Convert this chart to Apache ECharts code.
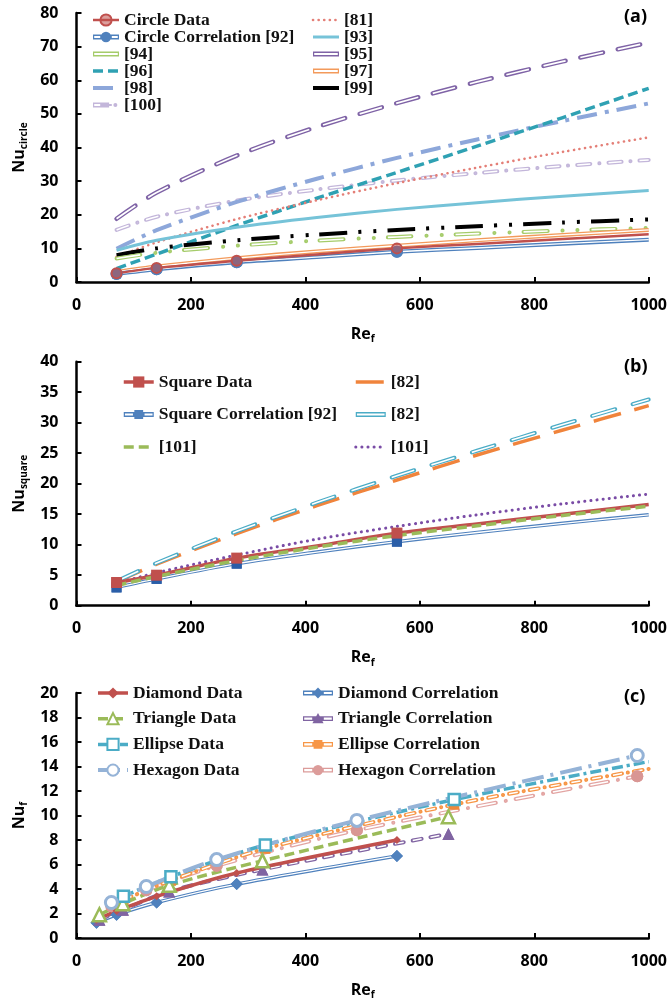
<!DOCTYPE html>
<html>
<head>
<meta charset="utf-8">
<script src="https://cdn.jsdelivr.net/npm/echarts@6/dist/echarts.min.js"></script>
<style>
  html, body { margin: 0; padding: 0; background: #fff; }
  #chart { width: 670px; height: 1001px; }
</style>
</head>
<body>
<div id="chart"></div>
<script>
// ---- Axis ranges: [min, max, interval] ----
const reRange = [0, 1000, 200];
const nuRangeCircle = [0, 80, 10];
const nuRangeSquare = [0, 40, 5];
const nuRangeFin = [0, 20, 2];

// ---- (a) circular fins ----
const reA = [70, 140, 280, 420, 560, 700, 850, 1000];
const reAMeasured = [70, 140, 280, 560];
const nuCircleData = [2.6, 4.2, 6.3, 8.2, 10.0, 11.3, 12.8, 14.2];
const nuCircleCorr = [2.4, 3.8, 5.9, 7.4, 9.0, 10.1, 11.4, 12.6];
const nuRef81 = [7.5, 11.8, 18.7, 24.3, 29.4, 34.0, 38.7, 43.0];
const nuRef93 = [9.4, 12.4, 16.3, 19.2, 21.6, 23.6, 25.5, 27.2];
const nuRef94 = [7.0, 8.7, 10.8, 12.3, 13.4, 14.4, 15.3, 16.1];
const nuRef95 = [18.8, 26.6, 37.6, 46.1, 53.2, 59.5, 65.6, 71.2];
const nuRef96 = [4.0, 8.3, 16.8, 24.9, 32.6, 40.4, 48.9, 57.6];
const nuRef97 = [3.0, 4.6, 7.1, 9.1, 10.8, 12.4, 14.0, 15.5];
const nuRef98 = [9.9, 15.4, 23.8, 30.7, 36.9, 42.4, 47.9, 53.1];
const nuRef99 = [8.0, 10.0, 12.4, 14.1, 15.5, 16.6, 17.7, 18.6];
const nuRef100 = [15.5, 19.4, 24.2, 27.5, 30.2, 32.4, 34.5, 36.3];

// ---- (b) square fins ----
const reB = [70, 140, 280, 420, 560, 700, 850, 1000];
const reBMeasured = [70, 140, 280, 560];
const nuSquareData = [3.8, 5.0, 7.8, 9.8, 11.9, 13.4, 15.0, 16.6];
const nuSquareCorr = [3.0, 4.4, 6.9, 8.8, 10.5, 12.0, 13.5, 14.9];
const nuRef82a = [3.9, 6.8, 11.8, 16.4, 20.6, 24.7, 28.8, 32.8];
const nuRef82b = [4.0, 7.0, 12.2, 16.9, 21.3, 25.4, 29.7, 33.8];
const nuRef101a = [3.3, 4.8, 7.4, 9.6, 11.5, 13.1, 14.8, 16.3];
const nuRef101b = [3.7, 5.4, 8.3, 10.9, 13.0, 14.9, 16.7, 18.3];

// ---- (c) other fin shapes ----
const reDiamond = [35, 70, 140, 280, 560];
const nuDiamondData = [1.5, 2.2, 3.4, 5.3, 8.0];
const nuDiamondCorr = [1.25, 1.9, 2.9, 4.4, 6.7];
const reTriangle = [40, 81, 162, 325, 650];
const nuTriangleData = [1.9, 2.8, 4.3, 6.3, 9.9];
const nuTriangleCorr = [1.5, 2.3, 3.8, 5.6, 8.5];
const reEllipse = [82, 165, 330, 660, 1000];
const reEllipseMeasured = [82, 165, 330, 660];
const nuEllipseData = [3.4, 5.0, 7.6, 11.3, 14.4];
const nuEllipseCorr = [3.1, 4.7, 7.3, 10.9, 13.8];
const reHexagon = [61, 122, 245, 490, 980];
const nuHexagonData = [2.9, 4.2, 6.4, 9.6, 14.9];
const nuHexagonCorr = [2.6, 3.9, 5.9, 8.8, 13.2];

// ---- helpers ----
function points(re, nu, measured) {
  return re.map((r, i) => {
    const item = { value: [r, nu[i]] };
    if (measured && measured.indexOf(r) < 0) item.symbol = 'none';
    return item;
  });
}

function curve(name, g, re, nu, o) {
  return {
    type: 'line', name: name, xAxisIndex: g, yAxisIndex: g,
    data: points(re, nu, o.measured),
    smooth: 0.3,
    symbol: o.symbol || 'none', symbolSize: o.size || 8, showAllSymbol: true,
    lineStyle: { color: o.color, width: o.width, type: o.dash || 'solid', cap: o.cap || 'butt', join: 'round' },
    itemStyle: o.item || { color: o.color },
    animation: false, silent: true, z: o.z || 2
  };
}

// A "double" line: coloured stroke with a thin white core, markers repeated on top
function doubleCurve(name, g, re, nu, o) {
  const outer = curve(name, g, re, nu, Object.assign({}, o, { cap: o.dash ? 'round' : 'butt' }));
  const inner = curve(name, g, re, nu, Object.assign({}, o, { width: o.inner, cap: 'butt' }));
  inner.lineStyle.color = '#fff';
  return [outer, inner];
}

const blue = '#4F81BD', red = '#C0504D', green = '#9BBB59', purple = '#8064A2', aqua = '#4BACC6', orange = '#F79646';

const series = [].concat(
  // (a)
  doubleCurve('[95]', 0, reA, nuRef95, { color: '#7F63A6', width: 4.5, inner: 1.7, dash: [23, 15] }),
  doubleCurve('[100]', 0, reA, nuRef100, { color: '#C3B6DA', width: 4, inner: 1.6, dash: [13, 9, 0.1, 9] }),
  curve('[98]', 0, reA, nuRef98, { color: '#8DA7DA', width: 4, dash: [20, 8, 4, 8] }),
  curve('[96]', 0, reA, nuRef96, { color: '#2FA1B3', width: 3.5, dash: [10, 5] }),
  curve('[81]', 0, reA, nuRef81, { color: '#E47F77', width: 2.6, dash: [0.1, 5.5], cap: 'round' }),
  curve('[93]', 0, reA, nuRef93, { color: '#76C3D8', width: 3 }),
  curve('[99]', 0, reA, nuRef99, { color: '#000', width: 4, dash: [28, 11, 3, 12, 3, 11] }),
  doubleCurve('[94]', 0, reA, nuRef94, { color: '#A5CC6A', width: 4, inner: 1.6, dash: [24, 15, 0.1, 15, 0.1, 13.8] }),
  doubleCurve('[97]', 0, reA, nuRef97, { color: '#F39A5B', width: 4, inner: 1.4 }),
  doubleCurve('Circle Correlation [92]', 0, reA, nuCircleCorr, {
    color: blue, width: 4, inner: 1.4, measured: reAMeasured, symbol: 'circle', size: 12,
    item: { color: blue }
  }),
  curve('Circle Data', 0, reA, nuCircleData, {
    color: red, width: 2.5, measured: reAMeasured, symbol: 'circle', size: 10,
    item: { color: 'rgba(192,80,77,0.55)', borderColor: red, borderWidth: 2 }
  }),
  // (b)
  curve('[82]', 1, reB, nuRef82a, { color: '#F0843C', width: 3.5, dash: [28, 14] }),
  doubleCurve('[82] ', 1, reB, nuRef82b, { color: aqua, width: 4, inner: 1.6, dash: [24, 18] }),
  curve('[101] ', 1, reB, nuRef101b, { color: '#7A4CA6', width: 3, dash: [0.1, 6], cap: 'round' }),
  doubleCurve('Square Correlation [92]', 1, reB, nuSquareCorr, {
    color: blue, width: 3.5, inner: 1.3, measured: reBMeasured, symbol: 'rect', size: 10,
    item: { color: '#2A5EA8' }
  }),
  curve('Square Data', 1, reB, nuSquareData, {
    color: red, width: 3.5, measured: reBMeasured, symbol: 'rect', size: 11, item: { color: red }
  }),
  curve('[101]', 1, reB, nuRef101a, { color: green, width: 3.5, dash: [10, 5] }),
  // (c)
  doubleCurve('Diamond Correlation', 2, reDiamond, nuDiamondCorr, {
    color: blue, width: 3.5, inner: 1.3, symbol: 'diamond', size: 12, item: { color: blue }
  }),
  doubleCurve('Triangle Correlation', 2, reTriangle, nuTriangleCorr, {
    color: purple, width: 4, inner: 1.5, dash: [9, 9], symbol: 'triangle', size: 12, item: { color: purple }
  }),
  doubleCurve('Hexagon Correlation', 2, reHexagon, nuHexagonCorr, {
    color: '#E3A5A3', width: 4, inner: 1.6, dash: [18, 10, 0.1, 10], symbol: 'circle', size: 12,
    item: { color: '#D99694' }
  }),
  doubleCurve('Ellipse Correlation', 2, reEllipse, nuEllipseCorr, {
    color: orange, width: 4, inner: 1.5, dash: [9, 6, 0.1, 6], measured: reEllipseMeasured,
    symbol: 'rect', size: 10, item: { color: '#F0883A' }
  }),
  curve('Diamond Data', 2, reDiamond, nuDiamondData, {
    color: red, width: 3.5, symbol: 'diamond', size: 8, item: { color: red }
  }),
  curve('Triangle Data', 2, reTriangle, nuTriangleData, {
    color: green, width: 3.5, dash: [10, 5], symbol: 'triangle', size: 13,
    item: { color: '#fff', borderColor: green, borderWidth: 2.5 }
  }),
  curve('Ellipse Data', 2, reEllipse, nuEllipseData, {
    color: aqua, width: 3.5, dash: [11, 4, 3, 4], measured: reEllipseMeasured, symbol: 'rect', size: 11,
    item: { color: '#fff', borderColor: aqua, borderWidth: 2.5 }
  }),
  curve('Hexagon Data', 2, reHexagon, nuHexagonData, {
    color: '#95B3D7', width: 4, dash: [22, 7, 3, 7], symbol: 'circle', size: 12,
    item: { color: '#fff', borderColor: '#95B3D7', borderWidth: 3 }
  })
);

// ---- axes ----
const tickFont = { fontFamily: 'Open Sans', fontWeight: 'bold', fontSize: 16, color: '#000' };
const nameRich = {
  m: { fontFamily: 'Open Sans', fontWeight: 'bold', fontSize: 16, lineHeight: 20, color: '#000' },
  s: { fontFamily: 'Open Sans', fontWeight: 'bold', fontSize: 10, lineHeight: 20, verticalAlign: 'bottom', color: '#000' }
};
const axisLine = { show: true, onZero: false, lineStyle: { color: '#000', width: 2.5 } };
const axisTick = { show: true, inside: true, length: 5, lineStyle: { color: '#000', width: 2 } };

function xAxis(g) {
  return {
    gridIndex: g, type: 'value', min: reRange[0], max: reRange[1], interval: reRange[2],
    axisLine, axisTick, splitLine: { show: false },
    axisLabel: Object.assign({ margin: 15, formatter: v => String(v) }, tickFont),
    name: '{m|Re}{s|f}', nameLocation: 'middle', nameGap: 42, nameTextStyle: { rich: nameRich }
  };
}
function yAxis(g, range, sub) {
  return {
    gridIndex: g, type: 'value', min: range[0], max: range[1], interval: range[2],
    axisLine, axisTick, splitLine: { show: false },
    axisLabel: Object.assign({ margin: 18, formatter: v => String(v) }, tickFont),
    name: '{m|Nu}{s|' + sub + '}', nameLocation: 'middle', nameGap: 44, nameTextStyle: { rich: nameRich }
  };
}

// ---- legend keys ----
// Keys for double-stroke curves: an outlined bar, optionally with the marker in the middle.
// Corner points pin the path's bounding box to the full key size so nothing is stretched.
const KEY_H = 14, KY = 7;
function hollowKey(W, marker, barEnd) {
  const t = 2.4, h = 1.1, xb = barEnd || W;
  const cx = W / 2;
  let p = `M0 0 L0 0 M${W} ${KEY_H} L${W} ${KEY_H} `;
  p += `M0 ${KY - t} L${xb} ${KY - t} L${xb} ${KY + t} L0 ${KY + t} Z `;
  const hole = (a, b) => `M${a} ${KY - h} L${a} ${KY + h} L${b} ${KY + h} L${b} ${KY - h} Z `;
  const a = 5.4;
  if (marker) {
    p += hole(1.2, cx - a - 0.4) + hole(cx + a + 0.4, xb - 1.2);
  } else {
    p += hole(1.2, xb - 1.2);
  }
  if (marker === 'circle') {
    const r = 5.2;
    p += `M${cx - r} ${KY} A${r} ${r} 0 1 1 ${cx + r} ${KY} A${r} ${r} 0 1 1 ${cx - r} ${KY} Z`;
  } else if (marker === 'rect') {
    const s = 4.4;
    p += `M${cx - s} ${KY - s} L${cx + s} ${KY - s} L${cx + s} ${KY + s} L${cx - s} ${KY + s} Z`;
  } else if (marker === 'diamond') {
    p += `M${cx} ${KY - a} L${cx + a} ${KY} L${cx} ${KY + a} L${cx - a} ${KY} Z`;
  } else if (marker === 'triangle') {
    p += `M${cx} ${KY - 5.6} L${cx + 5.6} ${KY + 4.6} L${cx - 5.6} ${KY + 4.6} Z`;
  } else if (marker === 'dot') {
    const r = 2, x = W * 0.86;
    p += `M${x - r} ${KY} A${r} ${r} 0 1 1 ${x + r} ${KY} A${r} ${r} 0 1 1 ${x - r} ${KY} Z`;
  }
  return 'path://' + p;
}

// name -> [key colour, marker]
const hollowKeys = {
  'Circle Correlation [92]': [blue, 'circle'],
  '[94]': ['#A5CC6A'], '[95]': ['#7F63A6'], '[97]': ['#F39A5B'], '[100]': ['#C3B6DA', 'dot'],
  'Square Correlation [92]': [blue, 'rect'], '[82] ': [aqua],
  'Diamond Correlation': [blue, 'diamond'], 'Triangle Correlation': [purple, 'triangle'],
  'Ellipse Correlation': [orange, 'rect'], 'Hexagon Correlation': ['#DC9C9A', 'circle']
};
// single-stroke curves drawn without markers get a line-only key
const plainLines = ['[81]', '[93]', '[96]', '[98]', '[99]', '[82]', '[101]', '[101] '];

function legendItem(n, W) {
  if (hollowKeys[n]) {
    const k = hollowKeys[n];
    return {
      name: n, icon: hollowKey(W, k[1], k[1] === 'dot' ? W * 0.62 : 0),
      itemStyle: { color: k[0], opacity: 1, borderWidth: 0 }
    };
  }
  if (plainLines.indexOf(n) >= 0) return { name: n, itemStyle: { opacity: 0 } };
  return n;
}

function legend(left, top, gap, width, names) {
  return {
    orient: 'vertical', left: left, top: top, padding: 0, itemGap: gap,
    itemWidth: width, itemHeight: KEY_H, selectedMode: false, symbolKeepAspect: false,
    lineStyle: { width: 'inherit' },
    data: names.map(n => legendItem(n, width)),
    formatter: n => n.trim(),
    textStyle: { fontFamily: 'Liberation Serif', fontWeight: 'bold', fontSize: 17.5, color: '#111' }
  };
}

const option = {
  backgroundColor: '#fff',
  animation: false,
  grid: [
    { left: 76.5, top: 13, width: 572.5, height: 269 },
    { left: 76.5, top: 361.7, width: 572.5, height: 244 },
    { left: 76.5, top: 693, width: 572.5, height: 245 }
  ],
  xAxis: [xAxis(0), xAxis(1), xAxis(2)],
  yAxis: [yAxis(0, nuRangeCircle, 'circle'), yAxis(1, nuRangeSquare, 'square'), yAxis(2, nuRangeFin, 'f')],
  legend: [
    legend(91, 11, -1, 26, ['Circle Data', 'Circle Correlation [92]', '[94]', '[96]', '[98]', '[100]']),
    legend(311, 11, -1, 26, ['[81]', '[93]', '[95]', '[97]', '[99]']),
    legend(122, 373, 14.5, 30, ['Square Data', 'Square Correlation [92]', '[101]']),
    legend(354, 373, 14.5, 30, ['[82]', '[82] ', '[101] ']),
    legend(96, 684, 7.7, 30, ['Diamond Data', 'Triangle Data', 'Ellipse Data', 'Hexagon Data']),
    legend(303, 684, 7.7, 30, ['Diamond Correlation', 'Triangle Correlation', 'Ellipse Correlation', 'Hexagon Correlation'])
  ],
  graphic: ['(a)', '(b)', '(c)'].map((t, i) => ({
    type: 'text', left: 624, top: [8, 358, 688][i],
    style: { text: t, fontFamily: 'Open Sans', fontWeight: 'bold', fontSize: 18, fill: '#000' }
  })),
  series: series
};

const chart = echarts.init(document.getElementById('chart'), null, { renderer: 'canvas' });
chart.setOption(option);
</script>
</body>
</html>
